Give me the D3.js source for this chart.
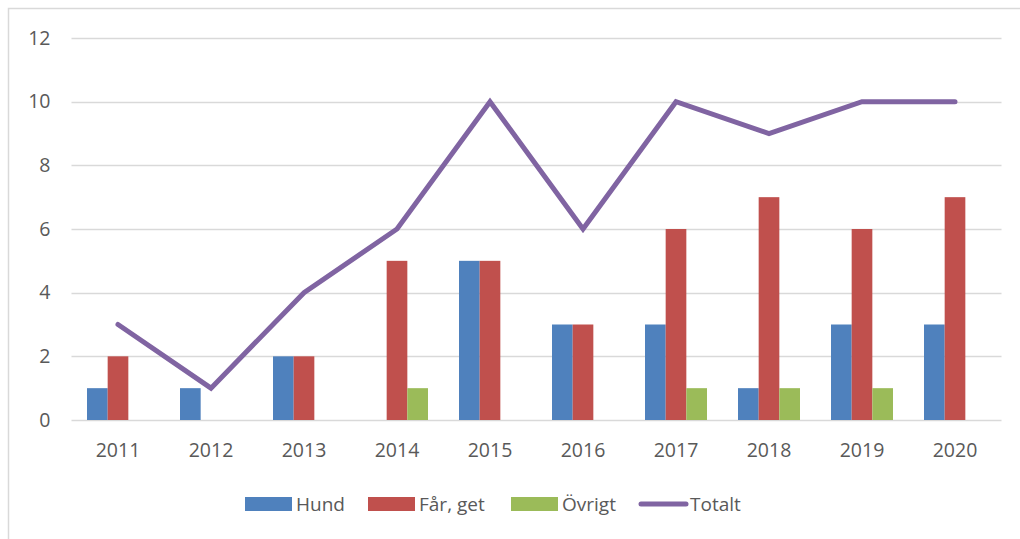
<!DOCTYPE html>
<html lang="sv">
<head>
<meta charset="UTF-8">
<title>chart</title>
<script src="https://d3js.org/d3.v7.min.js"></script>
<style>
  body { margin: 0; background: #fff; }
  text { font-family: "Open Sans", "Noto Sans", sans-serif; fill: #595959; }
</style>
</head>
<body>
<div class="canvas"></div>
<script>
  const years = ['2011','2012','2013','2014','2015','2016','2017','2018','2019','2020'];
  const hund = [1, 1, 2, 0, 5, 3, 3, 1, 3, 3];
  const farGet = [2, 0, 2, 5, 5, 3, 6, 7, 6, 7];
  const ovrigt = [0, 0, 0, 1, 0, 0, 1, 1, 1, 0];
  const totalt = [3, 1, 4, 6, 10, 6, 10, 9, 10, 10];
  const yTicks = [0, 2, 4, 6, 8, 10, 12];

  const seriesNames = ['Hund', 'Får, get', 'Övrigt'];
  const barSeries = [hund, farGet, ovrigt];
  const colors = ['#4f81bd', '#c0504d', '#9bbb59'];
  const lineColor = '#8064a2';

  const width = 1020, height = 539;
  const [ml, mr, mt, mb] = [71.5, 18.5, 38, 119];
  const gw = width - ml - mr, gh = height - mt - mb;

  const svg = d3.select('.canvas').append('svg')
    .attr('width', width).attr('height', height);

  // rahmen
  svg.append('rect')
    .attr('x', 8.5).attr('y', 8.5)
    .attr('width', 1030).attr('height', 560)
    .attr('fill', 'none').attr('stroke', '#d9d9d9').attr('stroke-width', 1.5);

  const g = svg.append('g').attr('transform', `translate(${ml},${mt})`);

  const x = d3.scaleBand().domain(years).range([0, gw]);
  const y = d3.scaleLinear().domain([0, 12]).range([gh, 0]);
  const xs = d3.scaleBand().domain(d3.range(3))
    .range([0, x.bandwidth()]).paddingOuter(0.75).paddingInner(0);

  // gridlines
  g.selectAll('.grid').data(yTicks).enter().append('line')
    .attr('x1', 0).attr('x2', gw)
    .attr('y1', d => Math.round(y(d)) + 0.5).attr('y2', d => Math.round(y(d)) + 0.5)
    .attr('stroke', '#d9d9d9').attr('stroke-width', 1.5);

  // y axis labels
  const yAxis = d3.axisLeft(y).tickValues(yTicks).tickSize(0).tickPadding(21);
  const yg = g.append('g').call(yAxis);
  yg.select('.domain').remove();
  yg.selectAll('text').style('font-size', '19.5px').attr('fill', '#595959');

  // x axis labels
  const xAxis = d3.axisBottom(x).tickSize(0).tickPadding(23);
  const xg = g.append('g').attr('transform', `translate(0,${gh})`).call(xAxis);
  xg.select('.domain').remove();
  xg.selectAll('text').style('font-size', '19.5px').attr('fill', '#595959');

  // bars
  barSeries.forEach((vals, si) => {
    g.selectAll('.bar' + si).data(vals.map((v, i) => ({ year: years[i], v })))
      .enter().append('rect')
      .attr('x', d => x(d.year) + xs(si))
      .attr('width', xs.bandwidth())
      .attr('y', d => y(d.v))
      .attr('height', d => gh - y(d.v))
      .attr('fill', colors[si]);
  });

  // total line
  const line = d3.line()
    .x((d, i) => x(years[i]) + x.bandwidth() / 2)
    .y(d => y(d));
  g.append('path')
    .attr('d', line(totalt))
    .attr('fill', 'none')
    .attr('stroke', lineColor)
    .attr('stroke-width', 5)
    .attr('stroke-linejoin', 'miter')
    .attr('stroke-linecap', 'round');

  // legend
  const legendItems = [
    { name: seriesNames[0], color: colors[0], type: 'bar', x: 245 },
    { name: seriesNames[1], color: colors[1], type: 'bar', x: 368 },
    { name: seriesNames[2], color: colors[2], type: 'bar', x: 511 },
    { name: 'Totalt', color: lineColor, type: 'line', x: 639 }
  ];
  const lg = svg.append('g').attr('transform', 'translate(0,504)');
  legendItems.forEach(it => {
    if (it.type === 'bar') {
      lg.append('rect').attr('x', it.x).attr('y', -7).attr('width', 47).attr('height', 14).attr('fill', it.color);
    } else {
      lg.append('line').attr('x1', it.x + 2).attr('x2', it.x + 47).attr('y1', 0).attr('y2', 0)
        .attr('stroke', it.color).attr('stroke-width', 5).attr('stroke-linecap', 'round');
    }
    lg.append('text').attr('x', it.x + 51).attr('y', 0).attr('dy', '0.35em')
      .style('font-size', '19px').text(it.name);
  });
</script>
</body>
</html>
